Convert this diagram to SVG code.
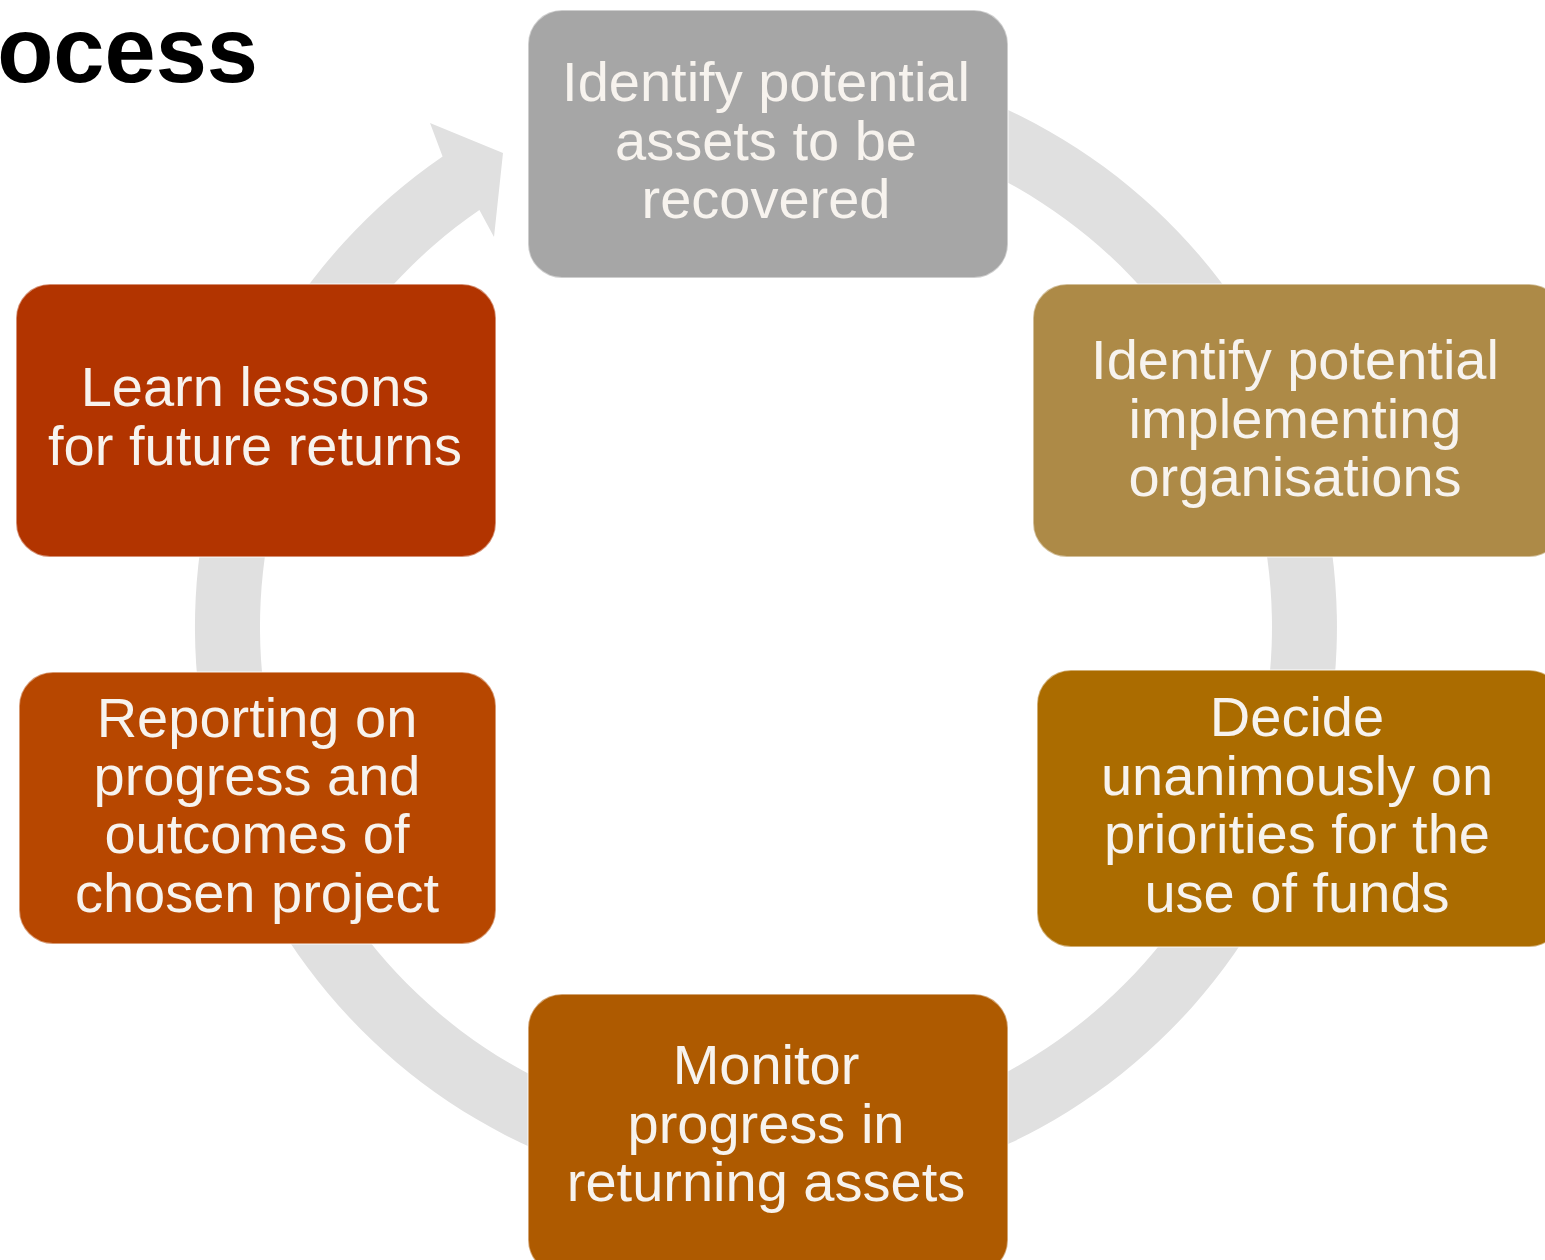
<svg xmlns="http://www.w3.org/2000/svg" width="1545" height="1260" viewBox="0 0 1545 1260">
<style>
.box{stroke:#ffffff;stroke-opacity:0.45;stroke-width:2}
.t{font-family:"Liberation Sans",Arial,sans-serif;font-size:56px;fill:#f7f3ee;text-anchor:middle}
.title{font-family:"Liberation Sans",Arial,sans-serif;font-size:92px;font-weight:bold;fill:#000}
</style>
<rect width="1545" height="1260" fill="#ffffff"/>
<text class="title" x="258" y="82" text-anchor="end">ocess</text>
<g id="connectors">
<path d="M 865.1 64.7 A 571 571 0 1 1 442.6 156.4 L 430 123 L 503 153 L 494 237 L 479.4 210 A 506 506 0 1 0 853.8 128.7 Z" fill="#e0e0e0"/>
</g>
<g id="n1">
<rect class="box" x="528" y="10" width="480" height="268" rx="34" fill="#a6a6a6"/>
<text class="t" x="766" y="101">Identify potential</text>
<text class="t" x="766" y="160">assets to be</text>
<text class="t" x="766" y="218">recovered</text>
</g>
<g id="n2">
<rect class="box" x="1033" y="284" width="530" height="273" rx="34" fill="#ad8a47"/>
<text class="t" x="1295" y="379">Identify potential</text>
<text class="t" x="1295" y="438">implementing</text>
<text class="t" x="1295" y="496">organisations</text>
</g>
<g id="n3">
<rect class="box" x="1037" y="670" width="526" height="277" rx="34" fill="#ab6c00"/>
<text class="t" x="1297" y="736">Decide</text>
<text class="t" x="1297" y="795">unanimously on</text>
<text class="t" x="1297" y="853">priorities for the</text>
<text class="t" x="1297" y="912">use of funds</text>
</g>
<g id="n4">
<rect class="box" x="528" y="994" width="480" height="280" rx="34" fill="#ae5a00"/>
<text class="t" x="766" y="1084">Monitor</text>
<text class="t" x="766" y="1143">progress in</text>
<text class="t" x="766" y="1201">returning assets</text>
</g>
<g id="n5">
<rect class="box" x="19" y="672" width="477" height="272" rx="34" fill="#b74700"/>
<text class="t" x="257" y="737">Reporting on</text>
<text class="t" x="257" y="795">progress and</text>
<text class="t" x="257" y="853">outcomes of</text>
<text class="t" x="257" y="912">chosen project</text>
</g>
<g id="n6">
<rect class="box" x="16" y="284" width="480" height="273" rx="34" fill="#b23400"/>
<text class="t" x="255" y="406">Learn lessons</text>
<text class="t" x="255" y="465">for future returns</text>
</g>
</svg>
